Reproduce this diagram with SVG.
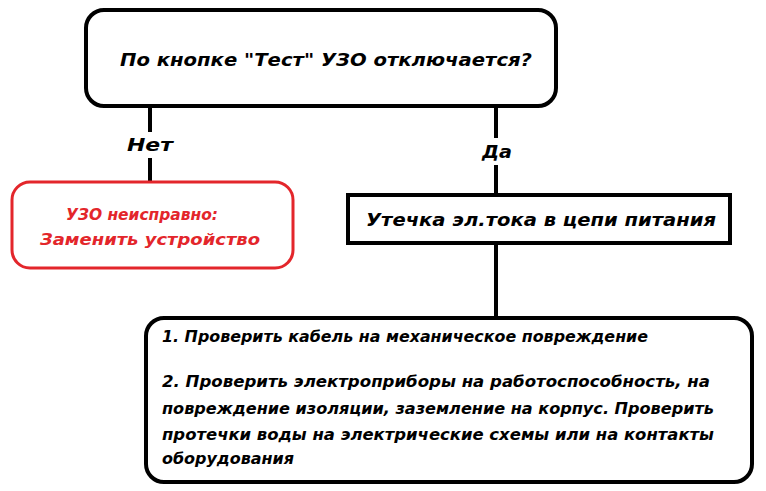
<svg xmlns="http://www.w3.org/2000/svg" width="766" height="491" viewBox="0 0 766 491">
<style>
.b{fill:#fff;stroke:#000;stroke-width:4}
.t{font-family:"DejaVu Sans",Verdana,sans-serif;font-weight:bold;font-style:italic;font-size:17px;fill:#000}
.s{font-size:15px}
.r{font-size:16px;fill:#e3262b}
.c{stroke:#000;stroke-width:4;fill:none}
</style>
<rect width="766" height="491" fill="#fff"/>
<g id="connectors">
<line class="c" x1="150" y1="106" x2="150" y2="132"/>
<line class="c" x1="150" y1="158" x2="150" y2="182"/>
<line class="c" x1="496" y1="106" x2="496" y2="138"/>
<line class="c" x1="496" y1="165" x2="496" y2="195"/>
<line class="c" x1="496" y1="243" x2="496" y2="318"/>
<text class="t" x="150" y="151" text-anchor="middle" textLength="46" lengthAdjust="spacingAndGlyphs">Нет</text>
<text class="t" x="497" y="158" text-anchor="middle" textLength="30" lengthAdjust="spacingAndGlyphs">Да</text>
</g>
<g id="q">
<rect class="b" x="86" y="10" width="470" height="96" rx="18"/>
<text class="t" x="120" y="66" font-size="18" textLength="412" lengthAdjust="spacingAndGlyphs">По кнопке "Тест" УЗО отключается?</text>
</g>
<g id="bad">
<rect x="12" y="182" width="281" height="86" rx="18" fill="#fff" stroke="#e3262b" stroke-width="3"/>
<text class="t r" x="66" y="220" textLength="152" lengthAdjust="spacingAndGlyphs">УЗО неисправно:</text>
<text class="t r" x="40" y="245" textLength="220" lengthAdjust="spacingAndGlyphs">Заменить устройство</text>
</g>
<g id="leak">
<rect class="b" x="348" y="195" width="382" height="48"/>
<text class="t" x="366" y="226" font-size="18" textLength="350" lengthAdjust="spacingAndGlyphs">Утечка эл.тока в цепи питания</text>
</g>
<g id="check">
<rect class="b" x="146" y="318" width="606" height="164" rx="18"/>
<text class="t s" x="162" y="342" textLength="486" lengthAdjust="spacingAndGlyphs">1. Проверить кабель на механическое повреждение</text>
<text class="t s" x="162" y="387" textLength="548" lengthAdjust="spacingAndGlyphs">2. Проверить электроприборы на работоспособность, на</text>
<text class="t s" x="162" y="414" textLength="552" lengthAdjust="spacingAndGlyphs">повреждение изоляции, заземление на корпус. Проверить</text>
<text class="t s" x="162" y="440" textLength="552" lengthAdjust="spacingAndGlyphs">протечки воды на электрические схемы или на контакты</text>
<text class="t s" x="162" y="464" textLength="132" lengthAdjust="spacingAndGlyphs">оборудования</text>
</g>
</svg>
